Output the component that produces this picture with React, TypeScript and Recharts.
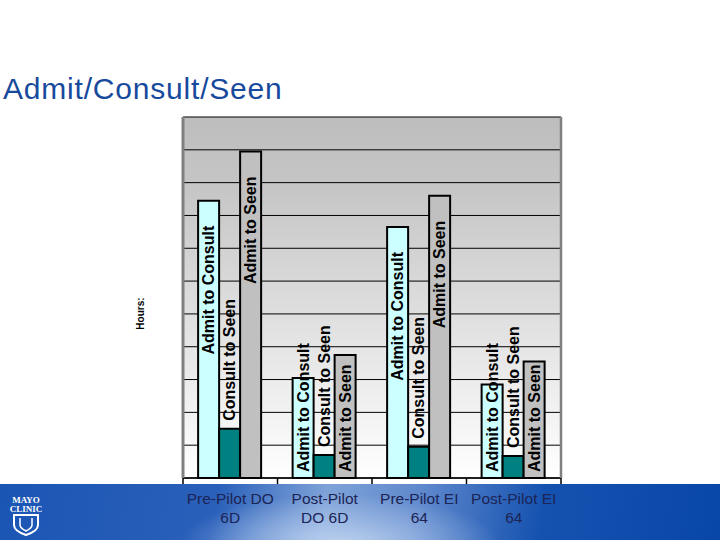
import React from 'react';
import { Bar, BarChart, CartesianGrid, LabelList, XAxis, YAxis } from 'recharts';

const categories = ['Pre-Pilot DO 6D', 'Post-Pilot DO 6D', 'Pre-Pilot EI 64', 'Post-Pilot EI 64'];
const tickLabels = [
    ['Pre-Pilot DO', '6D'],
    ['Post-Pilot', 'DO 6D'],
    ['Pre-Pilot EI', '64'],
    ['Post-Pilot EI', '64'],
];
const admitToConsult = [8.45, 3.05, 7.65, 2.85];
const consultToSeen = [1.5, 0.7, 0.95, 0.67];
const admitToSeen = [9.95, 3.75, 8.6, 3.55];
const hourTicks = [0, 1, 2, 3, 4, 5, 6, 7, 8, 9, 10, 11];

const data = categories.map((name, i) => ({
    name,
    a2c: admitToConsult[i],
    c2s: consultToSeen[i],
    a2s: admitToSeen[i],
}));

const series = [
    { key: 'a2c', name: 'Admit to Consult', fill: '#CCFFFF', place: 'auto' },
    { key: 'c2s', name: 'Consult to Seen', fill: '#008080', place: 'outside' },
    { key: 'a2s', name: 'Admit to Seen', fill: '#C0C0C0', place: 'auto' },
];

const FONT = 'Arial, "Liberation Sans", Helvetica, sans-serif';

// series name written up the bar, the way the slide had it
const seriesLabel = (text: string, place: string) => (props: any) => {
    const box = props.viewBox || props;
    const { x, y, width, height } = box;
    const cx = x + width / 2;
    let ty: number;
    let anchor: 'start' | 'end';
    if (place === 'outside') {
        ty = y - 8;
        anchor = 'start';
    } else if (height > 150) {
        ty = y + 25;
        anchor = 'end';
    } else {
        ty = y + height - 6;
        anchor = 'start';
    }
    return (
        <text
            x={cx}
            y={ty}
            transform={`rotate(-90 ${cx} ${ty})`}
            textAnchor={anchor}
            dominantBaseline="central"
            fontFamily={FONT}
            fontSize={16}
            fontWeight="bold"
            fill="#000"
        >
            {text}
        </text>
    );
};

const CategoryTick = (props: any) => {
    const { x, y, index, width, visibleTicksCount } = props;
    const band = width / visibleTicksCount;
    const lines = tickLabels[index] || [];
    return (
        <g>
            <line x1={x - band / 2} x2={x - band / 2} y1={y - 6} y2={y} stroke="#000" strokeWidth={1.5} />
            {index === visibleTicksCount - 1 && (
                <line x1={x + band / 2} x2={x + band / 2} y1={y - 6} y2={y} stroke="#000" strokeWidth={1.5} />
            )}
            {lines.map((line, i) => (
                <text
                    key={i}
                    x={x}
                    y={y + 20 + i * 19}
                    textAnchor="middle"
                    fontFamily={FONT}
                    fontSize={15.5}
                    fill="#1b2455"
                >
                    {line}
                </text>
            ))}
        </g>
    );
};

const HoursLabel = (props: any) => {
    const vb = props.viewBox;
    const cx = 140;
    const cy = vb.y + vb.height / 2 + 16;
    return (
        <text
            x={cx}
            y={cy}
            transform={`rotate(-90 ${cx} ${cy})`}
            textAnchor="middle"
            dominantBaseline="central"
            fontFamily={FONT}
            fontSize={10}
            fontWeight="bold"
            fill="#000"
        >
            Hours:
        </text>
    );
};

const NoTick = () => <g />;

const MayoLogo = () => (
    <svg width={40} height={42} viewBox="0 0 40 42" style={{ position: 'absolute', left: 6, top: 494 }}>
        <text x={20} y={9} textAnchor="middle" fontFamily="serif" fontWeight="bold" fontSize={9} fill="#fff">
            MAYO
        </text>
        <text x={20} y={18} textAnchor="middle" fontFamily="serif" fontWeight="bold" fontSize={9} fill="#fff">
            CLINIC
        </text>
        <path d="M8 21 H32 V31 Q32 37 20 41 Q8 37 8 31 Z" fill="none" stroke="#fff" strokeWidth={2} />
        <path d="M14 24 V31 Q14 34 20 37 Q26 34 26 31 V24" fill="none" stroke="#fff" strokeWidth={1.5} />
    </svg>
);

export default function App() {
    return (
        <div
            style={{
                position: 'absolute',
                left: 0,
                top: 0,
                width: 720,
                height: 540,
                background: '#fff',
                overflow: 'hidden',
                fontFamily: FONT,
            }}
        >
            <div
                style={{
                    position: 'absolute',
                    left: 0,
                    top: 484,
                    width: 720,
                    height: 56,
                    background:
                        'radial-gradient(ellipse 160px 50px at 340px 60px, rgba(190,210,240,0.95), rgba(190,210,240,0) 100%), linear-gradient(100deg, #1b55b4 0%, #2a60ba 30%, #7fa3d8 45%, #5e88cc 58%, #1552b0 75%, #0846a8 100%)',
                }}
            />
            <MayoLogo />
            <div
                style={{
                    position: 'absolute',
                    left: 3,
                    top: 74,
                    fontSize: 30,
                    lineHeight: 1,
                    letterSpacing: 0.8,
                    color: '#174a9c',
                    whiteSpace: 'nowrap',
                }}
            >
                Admit/Consult/Seen
            </div>
            <div style={{ position: 'absolute', left: 0, top: 0 }}>
                <BarChart
                    width={720}
                    height={540}
                    data={data}
                    margin={{ top: 117, right: 0, left: 0, bottom: 0 }}
                    barCategoryGap="16%"
                    barGap={0}
                >
                    <defs>
                        <linearGradient id="plotBg" x1="0" y1="0" x2="0" y2="1">
                            <stop offset="0%" stopColor="#bdbdbd" />
                            <stop offset="20%" stopColor="#c6c6c6" />
                            <stop offset="100%" stopColor="#ffffff" />
                        </linearGradient>
                    </defs>
                    <CartesianGrid
                        yAxisId="l"
                        vertical={false}
                        stroke="#000"
                        strokeWidth={1}
                        fill="url(#plotBg)"
                        fillOpacity={1}
                    />
                    <XAxis
                        dataKey="name"
                        height={62}
                        interval={0}
                        tickLine={false}
                        tickSize={6}
                        tickMargin={0}
                        axisLine={{ stroke: '#000', strokeWidth: 1.5 }}
                        tick={<CategoryTick />}
                    />
                    <YAxis
                        yAxisId="l"
                        width={183}
                        domain={[0, 11]}
                        ticks={hourTicks}
                        interval={0}
                        tick={<NoTick />}
                        tickLine={false}
                        axisLine={{ stroke: '#808080', strokeWidth: 3 }}
                        label={{ content: <HoursLabel /> }}
                    />
                    <YAxis
                        yAxisId="r"
                        orientation="right"
                        width={159}
                        domain={[0, 11]}
                        ticks={hourTicks}
                        tick={false}
                        tickLine={false}
                        axisLine={{ stroke: '#808080', strokeWidth: 2.5 }}
                    />
                    {series.map((s) => (
                        <Bar
                            key={s.key}
                            yAxisId="l"
                            dataKey={s.key}
                            name={s.name}
                            fill={s.fill}
                            stroke="#000"
                            strokeWidth={2}
                            isAnimationActive={false}
                        >
                            <LabelList dataKey={s.key} content={seriesLabel(s.name, s.place)} />
                        </Bar>
                    ))}
                </BarChart>
            </div>
        </div>
    );
}
